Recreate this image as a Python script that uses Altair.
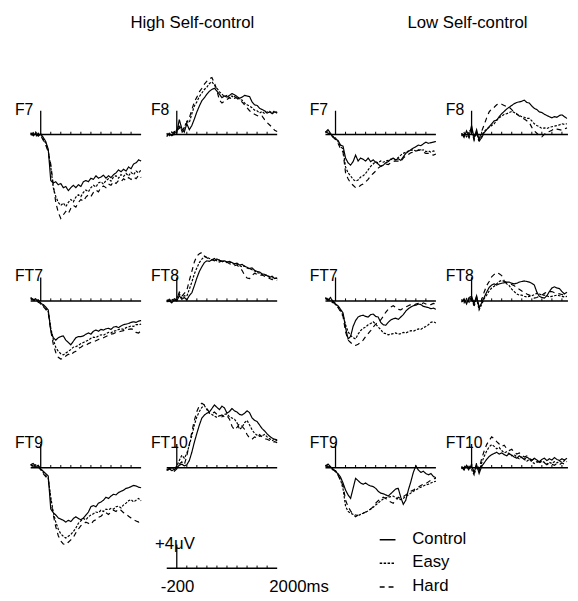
import altair as alt
import pandas as pd

# ---------------- data ----------------
TIMES = list(range(-200, 2001, 50))          # ms sampling grid
CONDITIONS = ["Control", "Easy", "Hard"]
GROUP_TITLES = ["High Self-control", "Low Self-control"]
ELECTRODES = [["F7", "F8"], ["FT7", "FT8"], ["FT9", "FT10"]]
TICKS_MS = [200, 400, 600, 800, 1000, 1200, 1400, 1600, 1800]
SCALE_BAR_UV = 4
TICK_UV = 0.45
SCALE_LABELS = ["+4\u03bcV", "-200", "2000ms"]

# amplitudes in microvolts
HIGH_F7_CONTROL = [0.3, -0.2, 0.2, -0.3, 0.1, -0.5, -1.2, -2.5, -7.8, -8.2, -8.0, -8.5, -8.3, -9.0, -8.8, -9.5, -9.0, -8.6, -9.0, -8.5, -8.8, -8.0, -7.8, -8.0, -7.4, -7.6, -7.0, -7.4, -7.2, -6.9, -7.4, -7.0, -7.3, -6.8, -6.5, -6.0, -6.3, -5.9, -6.2, -5.5, -5.8, -5.0, -4.8, -4.3, -4.5]
HIGH_F7_EASY = [0.2, -0.3, 0.4, -0.2, 0.0, -0.8, -1.5, -2.8, -5.5, -9.0, -10.5, -11.5, -12.0, -11.6, -12.2, -11.5, -11.0, -11.4, -10.6, -10.2, -10.5, -9.8, -9.4, -9.7, -9.0, -8.6, -8.9, -8.2, -8.0, -8.4, -7.8, -7.5, -7.9, -7.2, -7.0, -7.4, -6.8, -7.1, -6.6, -7.0, -6.4, -6.8, -6.2, -6.5, -6.0]
HIGH_F7_HARD = [-0.1, 0.3, -0.4, 0.2, -0.2, -1.0, -1.8, -3.0, -5.0, -8.5, -11.5, -13.2, -14.2, -13.6, -13.0, -13.4, -12.5, -12.0, -12.3, -11.5, -11.0, -11.3, -10.6, -10.2, -10.5, -9.8, -9.4, -9.7, -9.0, -8.7, -9.0, -8.4, -8.6, -8.0, -8.3, -7.8, -8.0, -7.5, -7.8, -7.3, -7.6, -7.2, -7.5, -6.9, -7.3]

HIGH_F8_CONTROL = [-0.4, 0.2, -0.2, 0.5, 0.3, 2.5, 1.0, 0.4, 1.8, 0.8, 1.5, 2.6, 3.8, 4.8, 5.7, 6.2, 6.8, 7.3, 7.6, 7.8, 7.3, 6.8, 6.2, 6.5, 6.3, 6.6, 6.9, 6.7, 6.4, 6.1, 6.3, 6.6, 6.5, 6.4, 5.5, 5.0, 4.9, 4.4, 4.2, 4.0, 3.6, 3.8, 3.5, 3.8, 3.6]
HIGH_F8_EASY = [0.2, -0.3, 0.4, 0.0, 0.8, 1.6, 0.6, 1.2, 2.2, 2.0, 3.5, 4.8, 5.5, 6.4, 7.0, 7.6, 8.0, 8.6, 8.9, 8.3, 7.8, 7.2, 6.8, 6.4, 6.6, 6.2, 6.5, 6.1, 6.3, 5.9, 5.8, 5.3, 5.0, 4.8, 4.5, 4.1, 4.0, 3.6, 3.9, 3.5, 3.8, 3.9, 3.6, 4.0, 3.7]
HIGH_F8_HARD = [-0.2, 0.1, -0.5, 0.3, 0.4, 1.2, 0.3, 0.9, 2.0, 2.8, 4.2, 5.5, 6.3, 7.2, 7.8, 8.5, 9.0, 9.4, 9.6, 8.7, 7.4, 5.8, 5.3, 5.6, 5.9, 6.2, 6.0, 6.4, 6.1, 5.7, 5.5, 5.0, 4.5, 4.0, 3.7, 3.4, 3.2, 3.0, 3.1, 2.5, 2.0, 1.6, 1.2, 0.7, 0.5]

LOW_F7_CONTROL = [0.4, 0.8, 0.2, -0.5, -0.8, -1.0, -1.8, -2.0, -4.0, -4.8, -5.2, -4.6, -3.5, -4.5, -4.0, -4.2, -4.5, -4.0, -4.6, -4.3, -4.7, -5.0, -5.4, -5.2, -4.8, -4.6, -4.2, -4.0, -4.3, -4.1, -4.4, -3.8, -3.2, -2.9, -2.6, -2.3, -2.1, -1.8, -1.9, -1.6, -1.3, -1.5, -1.4, -1.3, -1.2]
LOW_F7_EASY = [0.3, 0.5, 0.0, -0.4, -0.6, -1.2, -2.0, -2.5, -5.5, -6.5, -7.0, -7.6, -7.9, -7.7, -7.2, -7.0, -6.6, -6.0, -5.4, -5.0, -4.6, -4.8, -4.5, -4.7, -4.5, -4.4, -4.2, -4.3, -4.3, -3.9, -3.5, -3.2, -3.0, -2.8, -2.7, -2.6, -2.8, -2.6, -2.7, -2.6, -2.9, -2.8, -3.0, -2.8, -2.9]
LOW_F7_HARD = [0.5, 0.2, 0.1, -0.3, -0.9, -1.5, -2.4, -3.0, -6.5, -7.5, -8.2, -8.6, -9.0, -9.0, -8.6, -8.4, -8.0, -7.6, -7.0, -6.6, -6.2, -5.7, -5.4, -5.2, -5.0, -5.1, -4.8, -4.6, -4.5, -4.5, -4.6, -4.0, -3.6, -3.4, -3.1, -3.0, -2.8, -2.7, -2.6, -3.0, -3.2, -3.2, -3.4, -3.5, -3.3]

LOW_F8_CONTROL = [0.2, -0.5, 0.6, -0.3, 1.5, -0.6, 0.8, -1.0, -0.6, 0.3, 0.8, 1.3, 1.8, 2.3, 2.4, 3.0, 3.5, 3.9, 4.3, 4.6, 4.9, 5.2, 5.4, 5.5, 5.6, 5.8, 5.4, 5.3, 4.8, 4.4, 4.2, 3.8, 3.7, 3.4, 3.2, 3.0, 2.8, 3.0, 2.9, 3.2, 3.3, 3.0, 2.7, 2.6, 2.4]
LOW_F8_EASY = [-0.3, 0.3, -0.4, 0.5, 0.9, -0.8, 0.4, -1.3, -0.2, 0.5, 0.9, 1.2, 1.5, 1.8, 2.4, 2.8, 3.1, 3.4, 3.5, 3.7, 3.9, 3.7, 3.4, 3.2, 3.0, 2.9, 2.7, 2.7, 2.3, 1.8, 1.5, 1.3, 1.0, 1.1, 1.0, 1.2, 1.3, 1.4, 1.5, 1.6, 1.8, 1.7, 1.8, 1.9, 1.7]
LOW_F8_HARD = [0.1, -0.2, 0.2, -0.6, 0.7, -1.0, 0.2, -0.8, 0.5, 1.6, 2.8, 3.8, 4.3, 4.6, 5.0, 5.2, 5.1, 4.9, 4.7, 4.6, 4.2, 3.7, 3.5, 3.1, 2.8, 2.6, 2.3, 2.0, 1.2, 0.6, 0.2, -0.2, -0.4, 0.0, 0.4, 0.5, 0.7, 1.0, 0.9, 0.8, 0.7, 0.9, 1.1, 1.0, 0.9]

HIGH_FT7_CONTROL = [0.6, 0.2, 0.4, -0.2, -0.4, -0.6, -1.0, -1.5, -5.0, -6.2, -6.6, -6.2, -6.0, -5.9, -6.6, -7.0, -7.4, -6.8, -6.2, -6.0, -6.0, -5.9, -5.6, -5.4, -5.6, -5.1, -4.9, -5.1, -4.8, -4.9, -4.7, -4.6, -4.8, -4.4, -4.3, -4.5, -4.2, -4.0, -3.9, -3.8, -3.6, -3.5, -3.6, -3.4, -3.3]
HIGH_FT7_EASY = [0.4, 0.0, 0.3, 0.1, -0.5, -0.8, -1.2, -1.8, -4.5, -6.5, -7.8, -8.5, -8.9, -9.1, -8.8, -8.5, -8.2, -7.8, -7.7, -7.5, -7.2, -7.0, -6.8, -6.6, -6.3, -6.1, -6.2, -5.9, -5.7, -5.8, -5.5, -5.3, -5.4, -5.1, -5.0, -4.8, -4.7, -4.8, -4.5, -4.4, -4.2, -4.3, -4.0, -4.0, -3.9]
HIGH_FT7_HARD = [0.5, 0.3, -0.1, 0.2, -0.3, -0.9, -1.4, -2.0, -5.0, -7.3, -8.7, -9.5, -9.8, -9.7, -9.3, -9.0, -9.2, -8.7, -8.5, -8.0, -7.8, -7.5, -7.5, -7.2, -7.0, -6.9, -6.7, -6.5, -6.3, -6.2, -6.0, -5.8, -5.6, -5.5, -5.3, -5.2, -5.1, -5.0, -4.9, -4.8, -4.7, -4.8, -5.3, -5.4, -5.0]

HIGH_FT8_CONTROL = [-0.2, 0.3, -0.3, 0.2, 0.0, 0.9, 0.3, 0.6, 0.2, 0.9, 1.4, 2.6, 3.9, 5.0, 5.8, 6.5, 6.8, 6.7, 7.0, 6.8, 7.1, 6.9, 6.7, 6.8, 6.6, 6.7, 6.5, 6.3, 6.4, 6.1, 6.2, 5.9, 5.7, 5.5, 5.6, 5.2, 5.0, 4.9, 4.6, 4.5, 4.3, 4.0, 4.2, 3.8, 3.9]
HIGH_FT8_EASY = [0.1, -0.2, 0.4, -0.1, 0.5, 1.2, 0.5, 0.9, 0.8, 2.0, 3.2, 4.6, 5.6, 6.5, 7.1, 7.5, 7.4, 7.2, 7.0, 7.1, 6.8, 6.9, 6.6, 6.8, 6.5, 6.6, 6.4, 6.2, 6.3, 6.0, 5.8, 5.9, 5.6, 5.4, 5.3, 5.1, 4.8, 4.7, 4.5, 4.3, 4.4, 4.1, 3.9, 4.0, 3.8]
HIGH_FT8_HARD = [0.2, 0.0, -0.3, 0.4, 0.2, 1.5, 0.8, 1.3, 1.8, 3.5, 5.0, 6.6, 7.6, 8.0, 8.2, 7.6, 7.3, 7.0, 6.9, 7.2, 6.8, 6.6, 6.8, 6.5, 6.6, 6.3, 6.2, 6.0, 6.1, 5.6, 5.2, 4.4, 3.9, 3.8, 4.3, 4.7, 4.5, 4.3, 4.4, 4.2, 4.0, 3.8, 3.6, 3.7, 3.5]

LOW_FT7_CONTROL = [0.5, 0.2, 0.6, -0.2, -0.5, -0.8, -1.4, -2.0, -4.5, -6.4, -6.0, -4.3, -3.3, -2.7, -2.5, -2.4, -2.6, -2.7, -2.3, -2.2, -2.6, -2.7, -3.6, -4.0, -4.1, -3.6, -3.2, -3.0, -2.9, -3.1, -2.7, -2.3, -1.7, -1.3, -1.0, -0.8, -0.7, -0.5, -0.6, -0.9, -1.0, -1.1, -1.3, -1.2, -1.4]
LOW_FT7_EASY = [0.3, 0.5, 0.0, -0.3, -0.6, -1.0, -1.6, -2.4, -4.0, -5.2, -5.8, -6.2, -6.4, -5.6, -5.0, -4.6, -4.4, -4.0, -3.8, -3.5, -3.9, -4.4, -4.8, -5.4, -5.5, -5.7, -5.6, -5.5, -5.4, -5.6, -5.5, -5.3, -5.4, -5.2, -5.0, -5.1, -4.9, -4.7, -4.8, -4.5, -4.3, -4.0, -3.6, -3.5, -3.7]
LOW_FT7_HARD = [0.6, 0.1, 0.4, 0.0, -0.4, -1.1, -1.8, -2.6, -5.2, -6.6, -7.0, -7.4, -7.5, -7.3, -7.0, -6.6, -6.0, -5.5, -5.0, -4.4, -3.9, -3.6, -3.2, -2.6, -1.9, -1.4, -1.0, -0.8, -1.1, -1.4, -1.5, -1.2, -1.0, -0.8, -0.6, -0.8, -0.5, -0.4, -0.6, -0.3, -0.5, -0.7, -0.6, -0.4, -0.5]

LOW_FT8_CONTROL = [-0.2, 0.4, -0.5, 0.6, 0.8, -0.4, 0.9, -1.2, -0.3, 0.6, 1.5, 2.3, 2.7, 2.9, 2.7, 2.9, 3.0, 3.1, 3.2, 3.2, 3.0, 2.9, 3.0, 3.2, 3.3, 3.4, 3.3, 3.2, 3.0, 2.7, 1.5, 0.8, 0.6, 0.5, 0.9, 1.6, 2.2, 2.4, 2.2, 2.1, 1.6, 1.2, 1.5, 1.6, 1.3]
LOW_FT8_EASY = [0.3, -0.3, 0.4, -0.2, 0.5, -0.9, 0.5, -1.5, -0.6, 0.4, 1.0, 1.7, 2.2, 2.5, 2.9, 3.3, 3.5, 3.3, 2.9, 2.6, 2.0, 1.6, 1.2, 1.0, 1.0, 0.8, 0.7, 0.8, 0.9, 1.1, 1.3, 1.2, 1.0, 1.0, 0.9, 0.7, 0.8, 0.9, 1.0, 0.9, 0.8, 0.7, 0.8, 0.7, 0.8]
LOW_FT8_HARD = [0.0, 0.2, -0.3, 0.3, 0.6, -0.6, 0.7, -0.9, 0.2, 1.5, 2.6, 3.3, 4.1, 4.5, 4.8, 4.6, 4.3, 3.4, 3.1, 2.9, 2.8, 2.6, 2.2, 2.0, 1.7, 1.5, 1.2, 1.0, 0.8, 0.5, 0.6, 0.8, 1.0, 1.3, 1.5, 1.6, 1.6, 1.4, 1.3, 1.2, 1.1, 1.0, 1.0, 0.9, 1.0]

HIGH_FT9_CONTROL = [0.5, 0.7, 0.2, 0.4, -0.2, -0.6, -1.0, -1.4, -7.0, -7.6, -8.0, -8.5, -8.7, -8.9, -9.2, -8.9, -9.1, -8.6, -8.3, -8.6, -8.8, -8.5, -8.0, -7.5, -6.6, -6.4, -6.6, -6.0, -5.8, -5.5, -5.0, -5.2, -4.8, -4.5, -4.6, -4.2, -4.0, -3.8, -3.5, -3.4, -3.2, -3.0, -3.1, -3.3, -3.4]
HIGH_FT9_EASY = [0.4, 0.2, 0.5, 0.0, -0.3, -0.8, -1.3, -1.8, -5.0, -7.5, -9.2, -10.4, -11.2, -11.6, -11.9, -11.6, -11.3, -10.8, -10.2, -9.4, -9.0, -8.6, -8.8, -8.3, -8.0, -7.8, -7.5, -7.6, -7.2, -7.4, -7.0, -7.1, -6.9, -7.0, -6.6, -6.5, -6.8, -6.3, -6.0, -5.6, -5.4, -5.8, -5.5, -5.2, -5.6]
HIGH_FT9_HARD = [0.6, 0.3, 0.1, 0.3, -0.4, -1.0, -1.5, -2.0, -5.5, -8.0, -10.0, -11.5, -12.4, -12.9, -13.0, -12.6, -12.2, -11.8, -11.0, -10.4, -9.8, -9.5, -9.2, -9.4, -9.6, -9.0, -8.8, -8.4, -8.2, -7.8, -7.6, -7.9, -7.5, -7.2, -7.4, -7.0, -7.2, -7.6, -7.8, -8.2, -8.5, -8.8, -9.0, -9.2, -9.0]

HIGH_FT10_CONTROL = [-0.4, -0.2, -0.5, -0.3, 0.0, 0.4, 0.6, 0.3, 0.5, 1.2, 2.6, 4.3, 5.8, 7.2, 8.4, 8.9, 9.2, 9.4, 10.0, 10.6, 10.2, 9.8, 10.4, 10.1, 9.2, 9.5, 10.0, 9.6, 9.4, 9.0, 8.9, 9.2, 9.6, 9.3, 8.4, 8.0, 7.8, 7.2, 6.6, 6.2, 5.7, 5.3, 5.0, 4.8, 4.7]
HIGH_FT10_EASY = [-0.2, -0.5, 0.0, -0.3, 0.3, 1.2, 2.1, 1.6, 2.4, 3.8, 5.4, 7.2, 8.6, 9.5, 10.2, 10.5, 9.8, 9.2, 9.0, 8.7, 8.5, 8.8, 8.6, 9.0, 9.1, 8.6, 8.4, 8.2, 7.6, 6.5, 6.8, 7.6, 8.0, 7.2, 6.4, 5.8, 5.5, 5.3, 5.4, 5.6, 5.2, 4.9, 4.6, 4.8, 4.5]
HIGH_FT10_HARD = [-0.5, -0.1, -0.4, -0.6, -0.2, 0.6, 1.0, 0.5, 2.0, 4.0, 6.0, 8.0, 9.5, 10.5, 10.9, 10.6, 10.0, 9.3, 9.1, 9.4, 9.0, 8.7, 8.9, 8.6, 8.8, 8.2, 7.0, 6.4, 6.8, 7.5, 7.0, 6.5, 5.6, 5.0, 4.8, 5.2, 5.0, 5.6, 5.2, 4.9, 4.8, 4.6, 4.3, 4.4, 4.2]

LOW_FT9_CONTROL = [0.3, 0.6, 0.2, -0.3, -0.7, -1.0, -1.6, -2.6, -3.8, -4.6, -5.2, -3.5, -1.8, -2.2, -2.6, -2.8, -2.6, -2.9, -3.1, -3.2, -3.5, -4.0, -4.3, -4.4, -4.6, -4.8, -4.4, -4.0, -3.6, -3.5, -5.0, -6.2, -5.5, -3.8, -2.4, -0.8, 0.3, -0.4, -0.8, -0.6, -1.0, -1.2, -1.0, -1.5, -1.7]
LOW_FT9_EASY = [0.2, 0.4, 0.0, -0.4, -0.5, -1.2, -2.0, -3.6, -6.5, -7.4, -7.7, -7.9, -8.0, -8.1, -7.9, -7.7, -7.5, -7.3, -7.0, -6.7, -6.3, -6.0, -5.6, -5.3, -5.1, -5.0, -4.9, -4.8, -5.1, -5.3, -5.4, -5.2, -4.8, -4.6, -4.3, -4.0, -3.8, -3.5, -3.3, -3.1, -2.9, -2.8, -2.6, -2.4, -2.3]
LOW_FT9_HARD = [0.4, 0.1, 0.3, -0.2, -0.6, -1.3, -2.2, -3.0, -5.5, -6.6, -7.3, -7.9, -8.3, -8.0, -7.8, -7.7, -7.5, -7.4, -7.0, -6.6, -6.0, -5.6, -5.2, -5.0, -5.2, -5.6, -5.8, -6.0, -5.5, -5.0, -5.2, -4.9, -4.6, -4.3, -4.0, -3.8, -3.5, -3.3, -3.0, -2.8, -2.7, -2.4, -2.1, -1.9, -1.8]

LOW_FT10_CONTROL = [0.2, -0.3, 0.4, -0.2, 0.3, -0.8, 0.5, -1.0, 0.2, 0.8, 1.4, 1.9, 2.2, 2.4, 2.6, 2.3, 2.5, 2.2, 2.0, 2.4, 2.1, 1.8, 1.6, 2.0, 1.7, 1.4, 1.8, 1.5, 1.2, 1.6, 1.3, 1.0, 1.4, 1.6, 1.2, 1.5, 1.3, 1.7, 1.4, 1.2, 1.5, 1.3, 1.6, 1.4, 1.5]
LOW_FT10_EASY = [-0.2, 0.3, -0.1, 0.4, -0.3, -1.2, 0.2, -0.6, 0.8, 1.9, 2.8, 3.5, 3.9, 3.6, 3.2, 3.4, 2.9, 2.5, 2.7, 2.3, 2.0, 2.2, 1.8, 1.5, 1.8, 1.4, 1.1, 1.4, 1.0, 0.7, 1.0, 0.8, 1.1, 0.9, 0.6, 0.9, 0.7, 1.0, 0.8, 1.1, 0.9, 1.2, 1.0, 0.8, 1.1]
LOW_FT10_HARD = [0.1, -0.4, 0.3, -0.5, 0.6, -0.9, 0.8, -0.3, 1.5, 2.8, 3.9, 4.6, 5.2, 4.9, 4.4, 4.0, 3.6, 3.8, 3.2, 2.9, 3.1, 2.6, 2.3, 2.5, 2.1, 1.8, 2.0, 1.6, 1.3, 1.5, 1.1, 0.9, 1.2, 0.8, 0.5, 0.8, 0.6, 0.4, 0.7, 0.5, 0.8, 0.6, 0.9, 0.7, 0.5]

WAVES = {
    ("High", "F7"): [HIGH_F7_CONTROL, HIGH_F7_EASY, HIGH_F7_HARD],
    ("High", "F8"): [HIGH_F8_CONTROL, HIGH_F8_EASY, HIGH_F8_HARD],
    ("Low", "F7"): [LOW_F7_CONTROL, LOW_F7_EASY, LOW_F7_HARD],
    ("Low", "F8"): [LOW_F8_CONTROL, LOW_F8_EASY, LOW_F8_HARD],
    ("High", "FT7"): [HIGH_FT7_CONTROL, HIGH_FT7_EASY, HIGH_FT7_HARD],
    ("High", "FT8"): [HIGH_FT8_CONTROL, HIGH_FT8_EASY, HIGH_FT8_HARD],
    ("Low", "FT7"): [LOW_FT7_CONTROL, LOW_FT7_EASY, LOW_FT7_HARD],
    ("Low", "FT8"): [LOW_FT8_CONTROL, LOW_FT8_EASY, LOW_FT8_HARD],
    ("High", "FT9"): [HIGH_FT9_CONTROL, HIGH_FT9_EASY, HIGH_FT9_HARD],
    ("High", "FT10"): [HIGH_FT10_CONTROL, HIGH_FT10_EASY, HIGH_FT10_HARD],
    ("Low", "FT9"): [LOW_FT9_CONTROL, LOW_FT9_EASY, LOW_FT9_HARD],
    ("Low", "FT10"): [LOW_FT10_CONTROL, LOW_FT10_EASY, LOW_FT10_HARD],
}

# ---------------- layout & style ----------------
FONT = "Liberation Sans, Arial, Helvetica, sans-serif"
DASHES = [[1, 0], [2.5, 1.5], [5, 4]]
dash_scale = alt.Scale(domain=CONDITIONS, range=DASHES)

PX_PER_MS = 112 / 2200
COL_WIDTH = [138, 161, 138, 108]
COL_TMAX = [2000, 2000, 2000, 1920]
ROW_HEIGHT = [169, 169, 120]
ROW_VMIN = [-109 / 6, -109 / 6, -10]
V_MAX = 10
HEADER_H = 64
FOOT_H = 70


def blank(w, h):
    return alt.Chart(pd.DataFrame({"z": [0]})).mark_point(opacity=0, size=1).encode(
        x=alt.value(w / 2), y=alt.value(h / 2)
    ).properties(width=w, height=h)


def axes_layers(xs, ys, tmax):
    hl = alt.Chart(pd.DataFrame({"t0": [-200], "t1": [tmax], "v": [0]})).mark_rule(
        color="black", strokeWidth=1.6
    ).encode(x=alt.X("t0:Q", scale=xs, axis=None), x2="t1:Q",
             y=alt.Y("v:Q", scale=ys, axis=None))
    tk = alt.Chart(pd.DataFrame({"t": TICKS_MS, "v0": [0] * len(TICKS_MS),
                                 "v1": [TICK_UV] * len(TICKS_MS)})).mark_rule(
        color="black", strokeWidth=1
    ).encode(x=alt.X("t:Q", scale=xs, axis=None),
             y=alt.Y("v0:Q", scale=ys, axis=None), y2="v1:Q")
    vb = alt.Chart(pd.DataFrame({"t": [0], "v0": [0], "v1": [SCALE_BAR_UV]})).mark_rule(
        color="black", strokeWidth=1.3
    ).encode(x=alt.X("t:Q", scale=xs, axis=None),
             y=alt.Y("v0:Q", scale=ys, axis=None), y2="v1:Q")
    return [hl, tk, vb]


def panel(group, elec, col, row):
    tmax = COL_TMAX[col]
    xs = alt.Scale(domain=[-200, tmax], range=[0, (tmax + 200) * PX_PER_MS],
                   nice=False, zero=False)
    ys = alt.Scale(domain=[ROW_VMIN[row], V_MAX], nice=False, zero=False)
    frames = [pd.DataFrame({"t": TIMES, "v": vals, "cond": cond})
              for cond, vals in zip(CONDITIONS, WAVES[(group, elec)])]
    df = pd.concat(frames, ignore_index=True)
    df = df[df["t"] <= tmax]
    lines = alt.Chart(df).mark_line(color="black", strokeWidth=1.2).encode(
        x=alt.X("t:Q", scale=xs, axis=None),
        y=alt.Y("v:Q", scale=ys, axis=None),
        strokeDash=alt.StrokeDash("cond:N", scale=dash_scale, legend=None),
        detail="cond:N",
        order="t:Q",
    )
    label = alt.Chart(pd.DataFrame({"label": [elec]})).mark_text(
        align="left", baseline="alphabetic", fontSize=16, font=FONT, color="black"
    ).encode(x=alt.value(-16), y=alt.value(40), text="label:N")
    return alt.layer(*axes_layers(xs, ys, tmax), lines, label).properties(
        width=COL_WIDTH[col], height=ROW_HEIGHT[row])


def header(col):
    if col == 0:
        title, cx = GROUP_TITLES[0], 164
    elif col == 2:
        title, cx = GROUP_TITLES[1], 144
    else:
        return blank(COL_WIDTH[col], HEADER_H)
    return alt.Chart(pd.DataFrame({"title": [title]})).mark_text(
        align="center", baseline="alphabetic", fontSize=17, font=FONT, color="black"
    ).encode(x=alt.value(cx), y=alt.value(16), text="title:N").properties(
        width=COL_WIDTH[col], height=HEADER_H)


def scale_bar():
    xs = alt.Scale(domain=[-200, 2000], range=[0, 112], nice=False, zero=False)
    ys = alt.Scale(domain=[7 - FOOT_H / 6, 7], nice=False, zero=False)
    layers = axes_layers(xs, ys, 2000)
    spots = [(-12, 22), (-6, 66), (104, 66)]
    for lab, (px, py) in zip(SCALE_LABELS, spots):
        layers.append(
            alt.Chart(pd.DataFrame({"label": [lab]})).mark_text(
                align="left", baseline="alphabetic", fontSize=17, font=FONT, color="black"
            ).encode(x=alt.value(px), y=alt.value(py), text="label:N"))
    return alt.layer(*layers).properties(width=COL_WIDTH[1], height=FOOT_H)


def legend_cell():
    df = pd.DataFrame({"cond": CONDITIONS})
    ys = alt.Scale(type="point", domain=CONDITIONS, range=[13, 61], padding=0)
    r = alt.Chart(df).mark_rule(color="black", strokeWidth=1.5).encode(
        x=alt.value(55), x2=alt.value(71),
        y=alt.Y("cond:N", scale=ys, axis=None),
        strokeDash=alt.StrokeDash("cond:N", scale=dash_scale, legend=None))
    t = alt.Chart(df).mark_text(
        align="left", baseline="alphabetic", dy=4, fontSize=17, font=FONT, color="black"
    ).encode(x=alt.value(88), y=alt.Y("cond:N", scale=ys, axis=None), text="cond:N")
    return alt.layer(r, t).properties(width=COL_WIDTH[2], height=FOOT_H)


cells = [header(c) for c in range(4)]
for r in range(3):
    for c in range(4):
        grp = "High" if c < 2 else "Low"
        cells.append(panel(grp, ELECTRODES[r][c % 2], c, r))
cells += [blank(COL_WIDTH[0], FOOT_H), scale_bar(), legend_cell(), blank(COL_WIDTH[3], FOOT_H)]

chart = alt.concat(*cells, columns=4, spacing=0, bounds="flush", align="each").properties(
    padding={"left": 7, "top": 0, "right": 0, "bottom": 0}
).configure(font=FONT).configure_view(stroke=None)

chart.save("out.html", embed_options={"renderer": "svg", "actions": False})
